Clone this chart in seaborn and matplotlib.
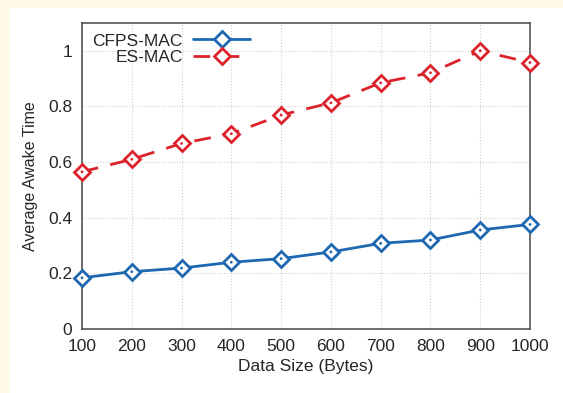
import pandas as pd
import matplotlib
matplotlib.use("Agg")
import matplotlib.pyplot as plt
import seaborn as sns
from matplotlib.patches import Rectangle
from matplotlib.lines import Line2D

# datos
tamanos = [100, 200, 300, 400, 500, 600, 700, 800, 900, 1000]
cfps_mac = [0.184, 0.206, 0.219, 0.240, 0.253, 0.277, 0.308, 0.320, 0.356, 0.376]
es_mac = [0.565, 0.610, 0.667, 0.702, 0.769, 0.813, 0.885, 0.921, 1.000, 0.958]
series = ["CFPS-MAC", "ES-MAC"]
colores = {"CFPS-MAC": "#1d68b0", "ES-MAC": "#dc222b"}
guiones = {"CFPS-MAC": None, "ES-MAC": (6, 4.5)}

datos = {"CFPS-MAC": cfps_mac, "ES-MAC": es_mac}

sns.set_style("white")
plt.rcParams["font.family"] = ["Liberation Sans", "DejaVu Sans"]

fig = plt.figure(figsize=(5.63, 3.93), dpi=100, facecolor="#fffbe8")
# panel blanco sobre fondo crema
fig.patches.append(Rectangle((10 / 563, 0), 1, 1 - 8 / 393, transform=fig.transFigure,
                             facecolor="white", edgecolor="none", zorder=-10))
ax = fig.add_axes([82 / 563, 1 - 329 / 393, (530 - 82) / 563, (329 - 23) / 393])

handles = []
for s in series:
    df = pd.DataFrame({"size": tamanos, "value": datos[s]})
    n_antes = len(ax.lines)
    sns.lineplot(data=df, x="size", y="value", color=colores[s], marker="D",
                 markersize=8.5, markerfacecolor="white", markeredgecolor=colores[s],
                 markeredgewidth=2, linewidth=2, ax=ax, zorder=3, clip_on=False)
    linea = ax.lines[n_antes]
    if guiones[s] is not None:
        linea.set_dashes(guiones[s])
    # punto central del marcador
    sns.scatterplot(data=df, x="size", y="value", color=colores[s], s=4,
                    edgecolor="none", ax=ax, zorder=5, clip_on=False)
    h = Line2D([], [], color=colores[s], marker="D", markersize=8.5,
               markerfacecolor="white", markeredgewidth=2, linewidth=2)
    if guiones[s] is not None:
        h.set_dashes(guiones[s])
    handles.append(h)

ax.set_xlim(100, 1000)
ax.set_ylim(0, 1.1)
ax.set_xticks(tamanos)
ax.set_yticks([0, 0.2, 0.4, 0.6, 0.8, 1.0])
ax.set_yticklabels(["0", "0.2", "0.4", "0.6", "0.8", "1"])
ax.tick_params(direction="in", length=4, labelsize=12.5, color="#777777", pad=7)
ax.grid(True, color="#d0d0d0", linestyle=":", linewidth=0.8)
ax.set_axisbelow(True)
for sp in ax.spines.values():
    sp.set_color("#555555")
    sp.set_linewidth(1.2)
ax.set_xlabel("Data Size (Bytes)", fontsize=12.5, labelpad=4)
ax.set_ylabel("Average Awake Time", fontsize=11.5, labelpad=7)

ax.legend(handles, series, loc="upper left", frameon=False, markerfirst=False,
          fontsize=12.5, handlelength=3.3, borderaxespad=0.3, labelspacing=0.05,
          handletextpad=0.6, borderpad=0.3)

fig.savefig("out.png", dpi=100, facecolor=fig.get_facecolor())
